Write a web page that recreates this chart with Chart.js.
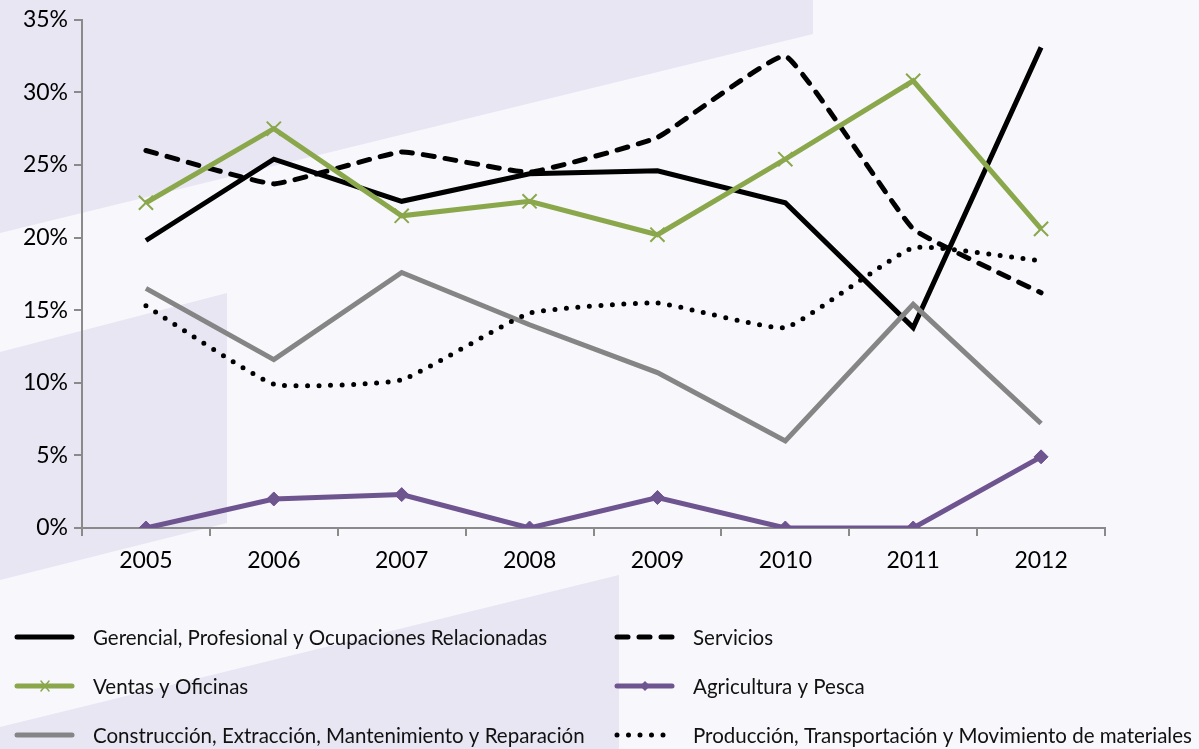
<!DOCTYPE html>
<html>
<head>
<meta charset="utf-8">
<script src="https://cdn.jsdelivr.net/npm/chart.js@4.4.1/dist/chart.umd.min.js"></script>
<style>
  html, body { margin: 0; padding: 0; background: #f7f7fc; }
  #wrap { width: 1199px; height: 749px; position: relative; }
</style>
</head>
<body>
<div id="wrap"><canvas id="chart"></canvas></div>
<script>
const years = ["2005", "2006", "2007", "2008", "2009", "2010", "2011", "2012"];
const gerencial = [19.8, 25.4, 22.5, 24.4, 24.6, 22.4, 13.8, 33.1];
const servicios = [26.0, 23.7, 25.9, 24.5, 26.9, 32.5, 20.6, 16.2];
const ventas = [22.4, 27.5, 21.5, 22.5, 20.2, 25.4, 30.8, 20.6];
const agricultura = [0, 2.0, 2.3, 0, 2.1, 0, 0, 4.9];
const construccion = [16.5, 11.6, 17.6, 14.0, 10.7, 6.0, 15.4, 7.2];
const produccion = [15.3, 9.9, 10.2, 14.8, 15.5, 13.8, 19.3, 18.4];
const names = [
  "Gerencial, Profesional y Ocupaciones Relacionadas",
  "Servicios",
  "Ventas y Oficinas",
  "Agricultura y Pesca",
  "Construcción, Extracción, Mantenimiento y Reparación",
  "Producción, Transportación y Movimiento de materiales",
];

const FONT = "Lato, 'Open Sans', sans-serif";

// lavender shapes behind everything
const backdrop = {
  id: "backdrop",
  beforeDraw(chart) {
    const c = chart.ctx;
    c.save();
    c.fillStyle = "#f7f7fc";
    c.fillRect(0, 0, chart.width, chart.height);
    c.fillStyle = "#e8e6f3";
    c.beginPath();
    c.moveTo(0, 0); c.lineTo(813, 0); c.lineTo(813, 34); c.lineTo(0, 233);
    c.closePath(); c.fill();
    c.beginPath();
    c.moveTo(0, 352); c.lineTo(227, 293); c.lineTo(227, 523); c.lineTo(0, 580);
    c.closePath(); c.fill();
    c.beginPath();
    c.moveTo(0, 727); c.lineTo(619, 575); c.lineTo(619, 749); c.lineTo(0, 749);
    c.closePath(); c.fill();
    c.restore();
  },
};

// two-column legend under the plot
const legend2 = {
  id: "legend2",
  afterDraw(chart) {
    const c = chart.ctx;
    c.save();
    c.font = `20.5px ${FONT}`;
    c.textBaseline = "middle";
    chart.data.datasets.forEach((ds, i) => {
      const col = i % 2, row = Math.floor(i / 2);
      const x0 = col === 0 ? 17 : 617;
      const y = 637 + row * 49;
      c.strokeStyle = ds.borderColor;
      c.lineWidth = ds.borderWidth;
      c.lineCap = "round";
      c.setLineDash(ds.borderDash || []);
      c.beginPath();
      c.moveTo(x0, y); c.lineTo(x0 + 55, y);
      c.stroke();
      c.setLineDash([]);
      if (ds.pointStyle === "crossRot") {
        c.lineWidth = 1.5;
        c.beginPath();
        c.moveTo(x0 + 24, y - 5); c.lineTo(x0 + 32, y + 5);
        c.moveTo(x0 + 32, y - 5); c.lineTo(x0 + 24, y + 5);
        c.stroke();
      } else if (ds.pointStyle === "rectRot") {
        c.fillStyle = ds.borderColor;
        c.beginPath();
        c.moveTo(x0 + 28, y - 5); c.lineTo(x0 + 33, y);
        c.lineTo(x0 + 28, y + 5); c.lineTo(x0 + 23, y);
        c.closePath(); c.fill();
      }
      c.fillStyle = "#111";
      c.fillText(ds.label, x0 + 76, y + 1);
    });
    c.restore();
  },
};

function series(label, data, color, extra) {
  return Object.assign({
    label: label,
    data: data,
    borderColor: color,
    backgroundColor: color,
    borderWidth: 5,
    pointRadius: 0,
    fill: false,
    tension: 0,
  }, extra);
}

new Chart(document.getElementById("chart"), {
  type: "line",
  data: {
    labels: years,
    datasets: [
      series(names[0], gerencial, "#000000", { order: 5 }),
      series(names[1], servicios, "#000000", { order: 4, borderDash: [11, 11], borderCapStyle: "round", tension: 0.1 }),
      series(names[2], ventas, "#8aa84b", { order: 3, pointStyle: "crossRot", pointRadius: 10, pointBorderWidth: 2, pointBorderColor: "#8aa84b" }),
      series(names[3], agricultura, "#6e5590", { order: 2, pointStyle: "rectRot", pointRadius: 7, pointBorderWidth: 1, pointBackgroundColor: "#6e5590" }),
      series(names[4], construccion, "#858585", { order: 1 }),
      series(names[5], produccion, "#000000", { order: 0, borderDash: [0, 11.5], borderCapStyle: "round", tension: 0.12 }),
    ],
  },
  options: {
    responsive: true,
    maintainAspectRatio: false,
    animation: false,
    layout: { padding: { top: 19, right: 94, left: 0, bottom: 0 } },
    plugins: { legend: { display: false }, tooltip: { enabled: false } },
    scales: {
      x: {
        offset: true,
        grid: { offset: true, drawOnChartArea: false, drawTicks: true, tickLength: 8, color: "#8a8a8a", lineWidth: 2 },
        border: { color: "#8a8a8a", width: 2 },
        ticks: { color: "#000", font: { family: FONT, size: 23 }, padding: 11 },
        afterFit: (s) => { s.height = 221; },
      },
      y: {
        min: 0,
        max: 35,
        grid: { drawOnChartArea: false, drawTicks: true, tickLength: 8, color: "#8a8a8a", lineWidth: 2 },
        border: { color: "#8a8a8a", width: 2 },
        ticks: { stepSize: 5, color: "#000", font: { family: FONT, size: 23 }, padding: 6, callback: (v) => v + "%" },
        afterFit: (s) => { s.width = 82; },
      },
    },
  },
  plugins: [backdrop, legend2],
});
</script>
</body>
</html>
